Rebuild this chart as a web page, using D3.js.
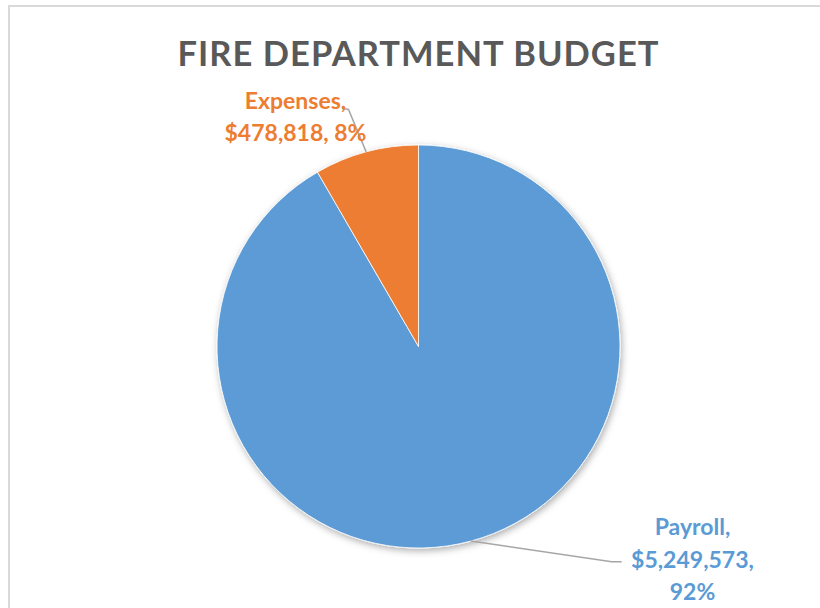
<!DOCTYPE html>
<html>
<head>
<meta charset="utf-8">
<script src="https://cdn.jsdelivr.net/npm/d3@7"></script>
<style>
  html, body { margin: 0; padding: 0; background: #fff; }
  svg { display: block; font-family: Lato, "Open Sans", "Noto Sans", sans-serif; }
</style>
</head>
<body>
<svg id="chart" width="820" height="608"></svg>
<script>
// Budget split for the fire department
const categories = ["Payroll", "Expenses"];
const amounts = [5249573, 478818];
const colors = ["#5B9BD5", "#ED7D31"];
const title = "FIRE DEPARTMENT BUDGET";

const W = 820, H = 608;
const cx = 418.5, cy = 346.5, R = 201.5;

const svg = d3.select("#chart");

// chart frame (only the top and left edges fall inside the view)
svg.append("rect")
  .attr("x", 9).attr("y", 6)
  .attr("width", W + 20).attr("height", H + 20)
  .attr("fill", "#fff")
  .attr("stroke", "#d9d9d9")
  .attr("stroke-width", 2);

// soft shadow under the pie
const defs = svg.append("defs");
const f = defs.append("filter").attr("id", "pieShadow")
  .attr("x", "-20%").attr("y", "-20%").attr("width", "140%").attr("height", "140%");
f.append("feDropShadow")
  .attr("dx", 1.5).attr("dy", 2.5)
  .attr("stdDeviation", 3.5)
  .attr("flood-color", "#000")
  .attr("flood-opacity", 0.32);

svg.append("text")
  .attr("x", 418).attr("y", 66)
  .attr("text-anchor", "middle")
  .attr("fill", "#595959")
  .attr("font-weight", 700)
  .attr("font-size", 34.5)
  .attr("textLength", 481)
  .attr("lengthAdjust", "spacing")
  .text(title);

const total = d3.sum(amounts);
const data = categories.map((c, i) => ({ name: c, value: amounts[i], color: colors[i] }));

const pie = d3.pie().sort(null).value(d => d.value);
const arcs = pie(data);
const arc = d3.arc().innerRadius(0).outerRadius(R);
const edge = d3.arc().innerRadius(R).outerRadius(R);

const g = svg.append("g").attr("transform", `translate(${cx},${cy})`);
g.append("g").attr("filter", "url(#pieShadow)")
  .selectAll("path")
  .data(arcs)
  .join("path")
  .attr("d", arc)
  .attr("fill", d => d.data.color)
  .attr("stroke", "#fff")
  .attr("stroke-width", 0.8);

const money = d3.format("$,");
const pct = v => Math.round(v / total * 100) + "%";

// label placement: where the leader line ends and how the text is broken
const labelLayout = {
  Payroll: {
    elbow: [611.7, 561.7], end: [621.7, 561.7],
    x: 692.5, y0: 535, dy: 32.5,
    lines: d => [d.name + ",", money(d.value) + ",", pct(d.value)]
  },
  Expenses: {
    elbow: [348.5, 109.5], end: [342, 108.5],
    x: 295.5, y0: 109, dy: 32,
    lines: d => [d.name + ",", money(d.value) + ", " + pct(d.value)]
  }
};

arcs.forEach(a => {
  const L = labelLayout[a.data.name];
  const [ex, ey] = edge.centroid(a);
  svg.append("path")
    .attr("d", d3.line()([[cx + ex, cy + ey], L.elbow, L.end]))
    .attr("fill", "none")
    .attr("stroke", "#a6a6a6")
    .attr("stroke-width", 1.5);
  const t = svg.append("text")
    .attr("text-anchor", "middle")
    .attr("fill", a.data.color)
    .attr("font-weight", 700)
    .attr("font-size", 23);
  L.lines(a.data).forEach((s, i) => {
    t.append("tspan").attr("x", L.x).attr("y", L.y0 + i * L.dy).text(s);
  });
});
</script>
</body>
</html>
